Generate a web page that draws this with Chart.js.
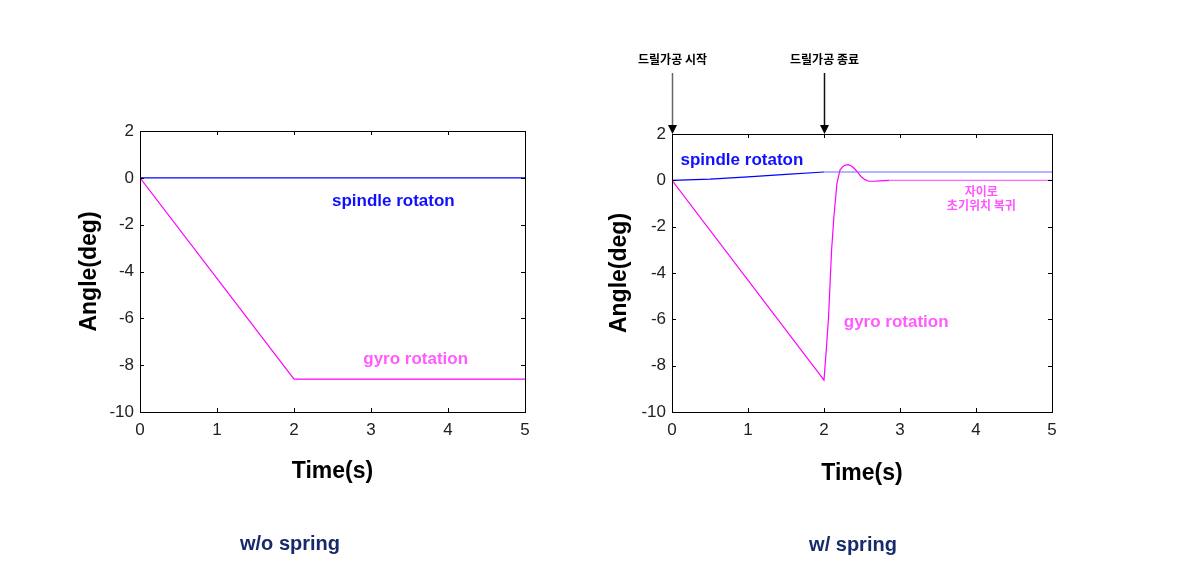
<!DOCTYPE html>
<html>
<head>
<meta charset="utf-8">
<script src="https://cdn.jsdelivr.net/npm/chart.js@4.4.1/dist/chart.umd.min.js"></script>
<style>
body { margin: 0; background: #fff; }
#wrap { position: relative; width: 1181px; height: 581px; overflow: hidden; }
.panel { position: absolute; top: 0; height: 581px; }
.caption { position: absolute; font: bold 20px 'Liberation Sans', Arial, sans-serif; color: #172a6b;
  transform: translate(-50%, -50%); white-space: nowrap; }
</style>
</head>
<body>
<div id="wrap">
  <div class="panel" style="left:0;width:590px"><canvas id="left" width="590" height="581"></canvas></div>
  <div class="panel" style="left:590px;width:591px"><canvas id="right" width="591" height="581"></canvas></div>
  <div class="caption" style="left:290px;top:543px">w/o spring</div>
  <div class="caption" style="left:853px;top:544px">w/ spring</div>
</div>
<script>
// w/o spring
const noSpringGyroTime = [0, 2, 5];
const noSpringGyro = [0, -8.6, -8.6];
const noSpringSpindleTime = [0, 5];
const noSpringSpindle = [0, 0];

// w/ spring
const springSpindleTime = [0, 0.5, 1, 1.5, 2, 5];
const springSpindle = [0, 0.05, 0.15, 0.26, 0.36, 0.36];
const springGyroTime = [0, 2.0, 2.03, 2.06, 2.08, 2.1, 2.13, 2.17, 2.21, 2.25, 2.28, 2.32, 2.36, 2.4, 2.45, 2.49, 2.54, 2.59, 2.66, 2.73, 2.86, 5];
const springGyro = [0, -8.62, -7.32, -5.89, -4.45, -3.01, -1.58, -0.14, 0.44, 0.6, 0.66, 0.68, 0.62, 0.51, 0.32, 0.15, 0.03, -0.04, -0.04, -0.02, 0, 0];

const timeTicks = [0, 1, 2, 3, 4, 5];
const angleTicks = [-10, -8, -6, -4, -2, 0, 2];

const FONT = "'Liberation Sans', Arial, sans-serif";
const KR = "'Noto Sans CJK KR', sans-serif";

function pts(xs, ys) {
    return xs.map((x, i) => ({ x: x, y: ys[i] }));
}

// box, inner ticks, text labels and arrows
const framePlugin = {
    id: 'frame',
    afterDatasetsDraw(chart, args, opts) {
        const { ctx, chartArea: a, scales: { x, y } } = chart;
        ctx.save();
        ctx.strokeStyle = '#000';
        ctx.lineWidth = 1;
        ctx.strokeRect(Math.round(a.left) + 0.5, Math.round(a.top) + 0.5,
            Math.round(a.right) - Math.round(a.left), Math.round(a.bottom) - Math.round(a.top));
        ctx.beginPath();
        timeTicks.forEach(t => {
            const px = Math.round(x.getPixelForValue(t)) + 0.5;
            ctx.moveTo(px, a.bottom); ctx.lineTo(px, a.bottom - 4);
            ctx.moveTo(px, a.top); ctx.lineTo(px, a.top + 4);
        });
        angleTicks.forEach(v => {
            const py = Math.round(y.getPixelForValue(v)) + 0.5;
            ctx.moveTo(a.left, py); ctx.lineTo(a.left + 4, py);
            ctx.moveTo(a.right, py); ctx.lineTo(a.right - 4, py);
        });
        ctx.stroke();

        ctx.textAlign = 'center';
        ctx.textBaseline = 'middle';
        (opts.notes || []).forEach(n => {
            ctx.fillStyle = n.color;
            ctx.font = n.font || ('bold 17px ' + FONT);
            ctx.fillText(n.text, x.getPixelForValue(n.x), y.getPixelForValue(n.y));
        });

        (opts.arrows || []).forEach(ar => {
            const px = Math.round(x.getPixelForValue(ar.x)) + 0.5;
            const tip = a.top;
            ctx.strokeStyle = ar.color;
            ctx.lineWidth = 1.5;
            ctx.beginPath();
            ctx.moveTo(px, tip - 61);
            ctx.lineTo(px, tip - 8);
            ctx.stroke();
            ctx.fillStyle = '#000';
            ctx.beginPath();
            ctx.moveTo(px - 4.5, tip - 9);
            ctx.lineTo(px + 4.5, tip - 9);
            ctx.lineTo(px, tip);
            ctx.closePath();
            ctx.fill();
            ctx.font = 'bold 12px ' + KR;
            ctx.fillText(ar.text, px, tip - 75);
        });
        ctx.restore();
    }
};

function makeChart(id, datasets, pad, yWidth, xHeight, notes, arrows) {
    return new Chart(document.getElementById(id), {
        type: 'line',
        data: { datasets: datasets },
        options: {
            responsive: false,
            animation: false,
            layout: { padding: pad },
            elements: { point: { radius: 0 }, line: { borderWidth: 1.2, tension: 0 } },
            plugins: {
                legend: { display: false },
                tooltip: { enabled: false },
                frame: { notes: notes, arrows: arrows }
            },
            scales: {
                x: {
                    type: 'linear', min: 0, max: 5,
                    afterBuildTicks: s => { s.ticks = timeTicks.map(v => ({ value: v })); },
                    afterFit: s => { s.height = xHeight; },
                    grid: { display: false, drawTicks: false },
                    border: { display: false },
                    ticks: { padding: 8, color: '#222', font: { family: FONT, size: 17 } },
                    title: { display: true, text: 'Time(s)', color: '#000', padding: 0,
                        font: { family: FONT, size: 23, weight: 'bold' } }
                },
                y: {
                    type: 'linear', min: -10, max: 2,
                    afterBuildTicks: s => { s.ticks = angleTicks.map(v => ({ value: v })); },
                    afterFit: s => { s.width = yWidth; },
                    grid: { display: false, drawTicks: false },
                    border: { display: false },
                    ticks: { padding: 6, color: '#222', font: { family: FONT, size: 17 } },
                    title: { display: true, text: 'Angle(deg)', color: '#000', padding: 0,
                        font: { family: FONT, size: 23, weight: 'bold' } }
                }
            }
        },
        plugins: [framePlugin]
    });
}

makeChart('left', [
    { data: pts(noSpringSpindleTime, noSpringSpindle), borderColor: '#0000ff' },
    { data: pts(noSpringGyroTime, noSpringGyro), borderColor: '#ff00ff' }
], { left: 76, right: 65, top: 131, bottom: 96 }, 64, 73, [
    { text: 'spindle rotaton', x: 3.29, y: -1.02, color: '#1010ff' },
    { text: 'gyro rotation', x: 3.58, y: -7.74, color: '#ff5bff' }
], []);

makeChart('right', [
    { data: pts(springSpindleTime, springSpindle), borderColor: '#0000ff',
      segment: { borderColor: c => c.p0.parsed.x >= 2 ? '#6a6aff' : '#0000ff' } },
    { data: pts(springGyroTime, springGyro), borderColor: '#ff00ff',
      segment: { borderColor: c => c.p0.parsed.x >= 2.8 ? '#ff66ff' : '#ff00ff' } }
], { left: 16, right: 129, top: 134, bottom: 94 }, 66, 75, [
    { text: 'spindle rotaton', x: 0.92, y: 0.87, color: '#1010ff' },
    { text: 'gyro rotation', x: 2.95, y: -6.15, color: '#ff5bff' },
    { text: '자이로', x: 4.07, y: -0.47, color: '#ff55ff', font: 'bold 12px ' + KR },
    { text: '초기위치 복귀', x: 4.07, y: -1.1, color: '#ff55ff', font: 'bold 12px ' + KR }
], [
    { x: 0, text: '드릴가공 시작', color: '#666' },
    { x: 2, text: '드릴가공 종료', color: '#111' }
]);
</script>
</body>
</html>
